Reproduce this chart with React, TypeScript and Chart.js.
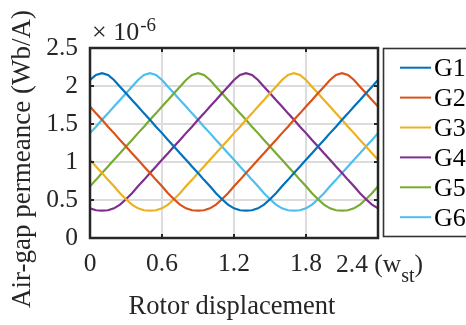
import React, { useEffect, useRef } from 'react';
import { Chart, registerables } from 'chart.js';

Chart.register(...registerables);

// Rotor displacement (in stator tooth widths, w_st)
const xs = [
  0, 0.05, 0.1, 0.15, 0.2, 0.25, 0.3, 0.35, 0.4, 0.45, 0.5, 0.55, 0.6, 0.65, 0.7, 0.75, 0.8, 0.85, 0.9, 0.95,
  1, 1.05, 1.1, 1.15, 1.2, 1.25, 1.3, 1.35, 1.4, 1.45, 1.5, 1.55, 1.6, 1.65, 1.7, 1.75, 1.8, 1.85, 1.9, 1.95,
  2, 2.05, 2.1, 2.15, 2.2, 2.25, 2.3, 2.35, 2.4,
];

// Air-gap permeance values (x 1e-6 Wb/A)
const G1 = [
  2.08, 2.145, 2.17, 2.145, 2.08, 1.99, 1.905, 1.815, 1.73, 1.64, 1.555, 1.465, 1.38, 1.29, 1.205, 1.115, 1.03,
  0.94, 0.855, 0.765, 0.68, 0.59, 0.51, 0.44, 0.39, 0.365, 0.36, 0.365, 0.39, 0.44, 0.51, 0.59, 0.68, 0.765,
  0.855, 0.94, 1.03, 1.115, 1.205, 1.29, 1.38, 1.465, 1.555, 1.64, 1.73, 1.815, 1.905, 1.99, 2.08,
];
const G2 = [
  1.73, 1.64, 1.555, 1.465, 1.38, 1.29, 1.205, 1.115, 1.03, 0.94, 0.855, 0.765, 0.68, 0.59, 0.51, 0.44, 0.39,
  0.365, 0.36, 0.365, 0.39, 0.44, 0.51, 0.59, 0.68, 0.765, 0.855, 0.94, 1.03, 1.115, 1.205, 1.29, 1.38, 1.465,
  1.555, 1.64, 1.73, 1.815, 1.905, 1.99, 2.08, 2.145, 2.17, 2.145, 2.08, 1.99, 1.905, 1.815, 1.73,
];
const G3 = [
  1.03, 0.94, 0.855, 0.765, 0.68, 0.59, 0.51, 0.44, 0.39, 0.365, 0.36, 0.365, 0.39, 0.44, 0.51, 0.59, 0.68,
  0.765, 0.855, 0.94, 1.03, 1.115, 1.205, 1.29, 1.38, 1.465, 1.555, 1.64, 1.73, 1.815, 1.905, 1.99, 2.08, 2.145,
  2.17, 2.145, 2.08, 1.99, 1.905, 1.815, 1.73, 1.64, 1.555, 1.465, 1.38, 1.29, 1.205, 1.115, 1.03,
];
const G4 = [
  0.39, 0.365, 0.36, 0.365, 0.39, 0.44, 0.51, 0.59, 0.68, 0.765, 0.855, 0.94, 1.03, 1.115, 1.205, 1.29, 1.38,
  1.465, 1.555, 1.64, 1.73, 1.815, 1.905, 1.99, 2.08, 2.145, 2.17, 2.145, 2.08, 1.99, 1.905, 1.815, 1.73, 1.64,
  1.555, 1.465, 1.38, 1.29, 1.205, 1.115, 1.03, 0.94, 0.855, 0.765, 0.68, 0.59, 0.51, 0.44, 0.39,
];
const G5 = [
  0.68, 0.765, 0.855, 0.94, 1.03, 1.115, 1.205, 1.29, 1.38, 1.465, 1.555, 1.64, 1.73, 1.815, 1.905, 1.99, 2.08,
  2.145, 2.17, 2.145, 2.08, 1.99, 1.905, 1.815, 1.73, 1.64, 1.555, 1.465, 1.38, 1.29, 1.205, 1.115, 1.03, 0.94,
  0.855, 0.765, 0.68, 0.59, 0.51, 0.44, 0.39, 0.365, 0.36, 0.365, 0.39, 0.44, 0.51, 0.59, 0.68,
];
const G6 = [
  1.38, 1.465, 1.555, 1.64, 1.73, 1.815, 1.905, 1.99, 2.08, 2.145, 2.17, 2.145, 2.08, 1.99, 1.905, 1.815, 1.73,
  1.64, 1.555, 1.465, 1.38, 1.29, 1.205, 1.115, 1.03, 0.94, 0.855, 0.765, 0.68, 0.59, 0.51, 0.44, 0.39, 0.365,
  0.36, 0.365, 0.39, 0.44, 0.51, 0.59, 0.68, 0.765, 0.855, 0.94, 1.03, 1.115, 1.205, 1.29, 1.38,
];

const seriesNames = ['G1', 'G2', 'G3', 'G4', 'G5', 'G6'];
const seriesValues = [G1, G2, G3, G4, G5, G6];
const seriesColors = ['#0072BD', '#D95319', '#EDB120', '#7E2F8E', '#77AC30', '#4DBEEE'];

const xTicks = [0, 0.6, 1.2, 1.8, 2.4];
const yTicks = [0, 0.5, 1, 1.5, 2, 2.5];
const xTickLabels = ['0', '0.6', '1.2', '1.8', '2.4'];
const yTickLabels = ['0', '0.5', '1', '1.5', '2', '2.5'];
const xUnitMain = '(w';
const xUnitSub = 'st';
const xUnitEnd = ')';
const xTitle = 'Rotor displacement';
const yTitle = 'Air-gap permeance (Wb/A)';
const expBase = '\u00D7 10';
const expPow = '-6';

const AX = '#262626';
const FAMILY = '"Liberation Serif", "Times New Roman", serif';
const TICK_SIZE = 25.5;

const decor = {
  id: 'decor',
  afterDatasetsDraw(chart: any) {
    const { ctx, chartArea: a, scales } = chart;
    ctx.save();
    ctx.strokeStyle = AX;
    ctx.lineWidth = 2;
    const tl = 4;
    ctx.beginPath();
    xTicks.forEach((v) => {
      const x = Math.round(scales.x.getPixelForValue(v));
      ctx.moveTo(x, a.bottom);
      ctx.lineTo(x, a.bottom - tl);
      ctx.moveTo(x, a.top);
      ctx.lineTo(x, a.top + tl);
    });
    yTicks.forEach((v) => {
      const y = Math.round(scales.y.getPixelForValue(v));
      ctx.moveTo(a.left, y);
      ctx.lineTo(a.left + tl, y);
      ctx.moveTo(a.right, y);
      ctx.lineTo(a.right - tl, y);
    });
    ctx.stroke();
    ctx.lineWidth = 2.5;
    ctx.strokeRect(a.left, a.top, a.right - a.left, a.bottom - a.top);
    ctx.restore();
  },
  afterDraw(chart: any) {
    const { ctx, chartArea: a, scales } = chart;
    ctx.save();
    ctx.fillStyle = AX;

    // last x tick label with unit "(w_st)"
    const px = scales.x.getPixelForValue(xTicks[xTicks.length - 1]);
    ctx.font = `${TICK_SIZE}px ${FAMILY}`;
    ctx.textBaseline = 'alphabetic';
    ctx.textAlign = 'left';
    const base = 272;
    let cx = px - 42;
    const lastLab = xTickLabels[xTickLabels.length - 1] + ' ';
    ctx.fillText(lastLab, cx, base);
    cx += ctx.measureText(lastLab).width;
    ctx.fillText(xUnitMain, cx, base);
    cx += ctx.measureText(xUnitMain).width;
    ctx.font = `20px ${FAMILY}`;
    ctx.fillText(xUnitSub, cx, base + 10);
    cx += ctx.measureText(xUnitSub).width;
    ctx.font = `${TICK_SIZE}px ${FAMILY}`;
    ctx.fillText(xUnitEnd, cx, base);

    // exponent
    ctx.font = `26px ${FAMILY}`;
    ctx.fillText(expBase, a.left + 2, 40);
    const ew = ctx.measureText(expBase).width;
    ctx.font = `19px ${FAMILY}`;
    ctx.fillText(expPow, a.left + 2 + ew + 1, 31);

    // x title
    ctx.font = `26.5px ${FAMILY}`;
    ctx.textAlign = 'center';
    ctx.fillText(xTitle, (a.left + a.right) / 2 - 2, 314);

    // y title
    ctx.save();
    ctx.translate(30, 159);
    ctx.rotate(-Math.PI / 2);
    ctx.font = `27px ${FAMILY}`;
    ctx.fillText(yTitle, 0, 0);
    ctx.restore();

    // legend
    const lx = 383.5;
    const ly = 48.5;
    const lb = 236.5;
    ctx.strokeStyle = '#333333';
    ctx.lineWidth = 1.6;
    ctx.strokeRect(lx, ly, 200, lb - ly);
    ctx.font = `26px ${FAMILY}`;
    ctx.textAlign = 'left';
    seriesNames.forEach((n, i) => {
      const y = 67.7 + i * 29.9;
      ctx.strokeStyle = seriesColors[i];
      ctx.lineWidth = 2;
      ctx.beginPath();
      ctx.moveTo(400, y);
      ctx.lineTo(431, y);
      ctx.stroke();
      ctx.fillStyle = '#000';
      ctx.fillText(n, 434, y + 8.5);
    });
    ctx.restore();
  },
};

export default function App() {
  const ref = useRef<HTMLCanvasElement | null>(null);
  useEffect(() => {
    document.body.style.margin = '0';
    const canvas = ref.current;
    if (!canvas) return;
    const chart = new Chart(canvas, {
      type: 'line',
      data: {
        datasets: seriesNames.map((n, i) => ({
          label: n,
          data: xs.map((x, j) => ({ x, y: seriesValues[i][j] })),
          borderColor: seriesColors[i],
          borderWidth: 2.2,
          pointRadius: 0,
          tension: 0,
          fill: false,
        })),
      },
      options: {
        animation: false,
        responsive: false,
        maintainAspectRatio: false,
        devicePixelRatio: 1,
        layout: { padding: { left: 0, top: 48, right: 88, bottom: 0 } },
        plugins: { legend: { display: false }, tooltip: { enabled: false } },
        scales: {
          x: {
            type: 'linear',
            min: 0,
            max: 2.4,
            afterBuildTicks: (s: any) => {
              s.ticks = xTicks.map((v) => ({ value: v }));
            },
            afterFit: (s: any) => {
              s.height = 87;
            },
            ticks: {
              autoSkip: false,
              maxRotation: 0,
              padding: 11,
              color: AX,
              font: { family: FAMILY, size: TICK_SIZE },
              callback: (v: any) => {
                const k = xTicks.indexOf(Number(v));
                if (k === xTicks.length - 1) return '';
                return k >= 0 ? xTickLabels[k] : '';
              },
            },
            grid: { color: '#dcdcdc', lineWidth: 2, drawTicks: false },
            border: { display: false },
          },
          y: {
            type: 'linear',
            min: 0,
            max: 2.5,
            afterBuildTicks: (s: any) => {
              s.ticks = yTicks.map((v) => ({ value: v }));
            },
            afterFit: (s: any) => {
              s.width = 90;
            },
            ticks: {
              padding: 12,
              color: AX,
              font: { family: FAMILY, size: TICK_SIZE },
              callback: (v: any) => {
                const k = yTicks.indexOf(Number(v));
                return k >= 0 ? yTickLabels[k] : '';
              },
            },
            grid: { color: '#dcdcdc', lineWidth: 2, drawTicks: false },
            border: { display: false },
          },
        },
      },
      plugins: [decor],
    });
    return () => chart.destroy();
  }, []);
  return <canvas ref={ref} width={466} height={325} style={{ display: 'block' }} />;
}
